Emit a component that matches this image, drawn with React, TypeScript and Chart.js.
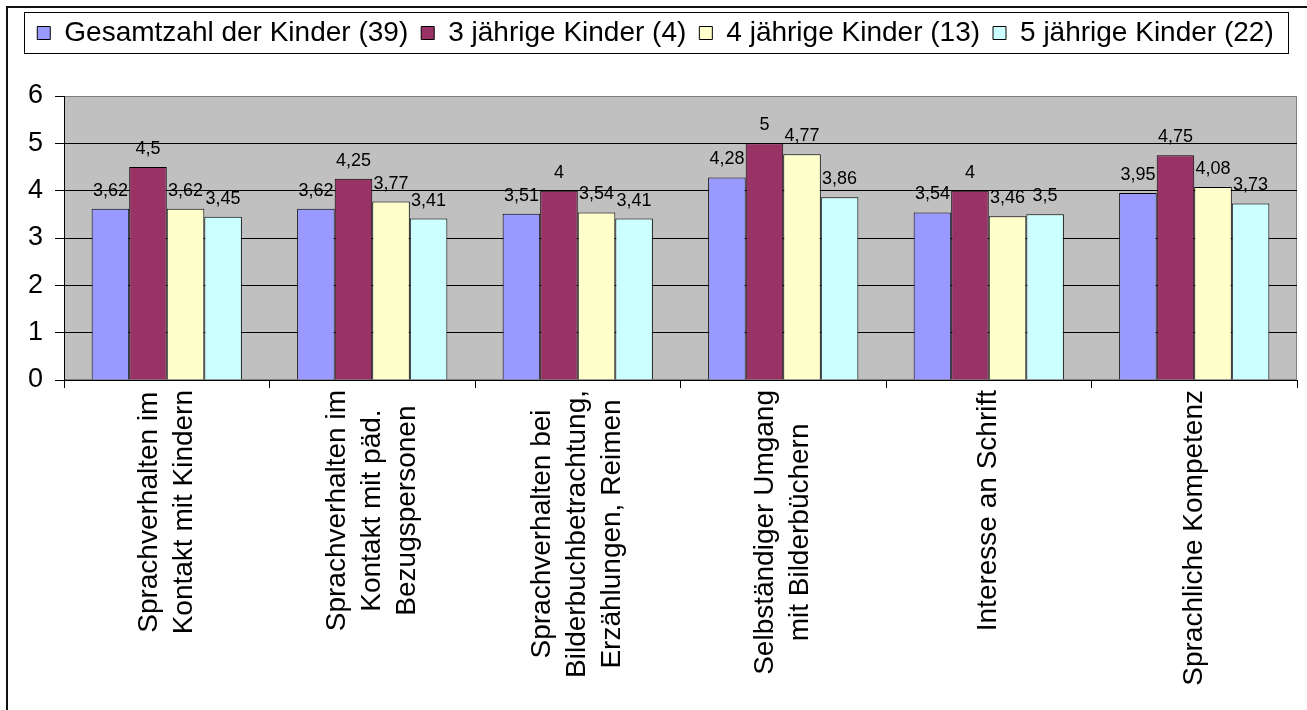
import React, { useEffect, useRef } from 'react';
import { Chart, registerables } from 'chart.js';

Chart.register(...registerables);

const FONT = "'Liberation Sans', Arial, sans-serif";

const categories: string[][] = [
  ['Sprachverhalten im', 'Kontakt mit Kindern'],
  ['Sprachverhalten im', 'Kontakt mit päd.', 'Bezugspersonen'],
  ['Sprachverhalten bei', 'Bilderbuchbetrachtung,', 'Erzählungen, Reimen'],
  ['Selbständiger Umgang', 'mit Bilderbüchern'],
  ['Interesse an Schrift'],
  ['Sprachliche Kompetenz'],
];

const seriesNames = [
  'Gesamtzahl der Kinder (39)',
  '3 jährige Kinder (4)',
  '4 jährige Kinder (13)',
  '5 jährige Kinder (22)',
];

const gesamtValues = [3.62, 3.62, 3.51, 4.28, 3.54, 3.95];
const dreiJahreValues = [4.5, 4.25, 4, 5, 4, 4.75];
const vierJahreValues = [3.62, 3.77, 3.54, 4.77, 3.46, 4.08];
const fuenfJahreValues = [3.45, 3.41, 3.41, 3.86, 3.5, 3.73];

const seriesColors = ['#9999FF', '#993366', '#FFFFCC', '#CCFFFF'];

const yMin = 0;
const yMax = 6;
const yStep = 1;

const formatValue = (v: number) => String(v).replace('.', ',');

const backgroundPlugin = {
  id: 'plotBackground',
  beforeDraw(chart: any) {
    const { ctx, chartArea, width, height } = chart;
    const { left, top, right, bottom } = chartArea;
    ctx.save();
    ctx.fillStyle = '#FFFFFF';
    ctx.fillRect(0, 0, width, height);
    ctx.fillStyle = '#C0C0C0';
    ctx.fillRect(left, top, right - left, bottom - top);
    ctx.strokeStyle = '#808080';
    ctx.lineWidth = 1;
    ctx.strokeRect(left + 0.5, top + 0.5, right - left - 1, bottom - top - 1);
    // outer chart frame
    ctx.strokeStyle = '#111111';
    ctx.lineWidth = 2;
    ctx.strokeRect(7, 7, width + 20, height + 20);
    ctx.restore();
  },
};

const legendSpacerPlugin = {
  id: 'legendSpacer',
  beforeLayout(chart: any) {
    const lg = chart.legend;
    if (lg && !lg._spacerPatched) {
      const orig = lg.fit;
      lg.fit = function () {
        orig.call(this);
        this.height += 39;
      };
      lg._spacerPatched = true;
    }
  },
};

const legendFramePlugin = {
  id: 'legendFrame',
  afterDraw(chart: any) {
    const lg = chart.legend;
    if (!lg || !lg.legendHitBoxes || !lg.legendHitBoxes.length) return;
    const hbs = lg.legendHitBoxes;
    let minL = Infinity;
    let maxR = -Infinity;
    hbs.forEach((hb: any) => {
      minL = Math.min(minL, hb.left);
      maxR = Math.max(maxR, hb.left + hb.width);
    });
    const cy = hbs[0].top + hbs[0].height / 2;
    const { ctx } = chart;
    ctx.save();
    ctx.strokeStyle = '#000000';
    ctx.lineWidth = 1;
    const l = Math.round(minL - 13) + 0.5;
    const r = Math.round(maxR + 14) + 0.5;
    const t = Math.round(cy - 21) + 0.5;
    ctx.strokeRect(l, t, r - l, 41);
    ctx.restore();
  },
};

const dataLabelPlugin = {
  id: 'dataLabels',
  afterDatasetsDraw(chart: any) {
    const { ctx } = chart;
    ctx.save();
    ctx.font = `18px ${FONT}`;
    ctx.fillStyle = '#000000';
    ctx.textAlign = 'center';
    ctx.textBaseline = 'alphabetic';
    chart.data.datasets.forEach((ds: any, i: number) => {
      const meta = chart.getDatasetMeta(i);
      meta.data.forEach((bar: any, j: number) => {
        ctx.fillText(formatValue(ds.data[j]), bar.x, bar.y - 13);
      });
    });
    ctx.restore();
  },
};

const xLabelPlugin = {
  id: 'xLabels',
  afterDraw(chart: any) {
    const { ctx } = chart;
    const xs = chart.scales.x;
    const lineH = 35;
    ctx.save();
    ctx.font = `28px ${FONT}`;
    ctx.fillStyle = '#000000';
    ctx.textAlign = 'center';
    ctx.textBaseline = 'middle';
    (chart.data.labels as any[]).forEach((label: any, i: number) => {
      const lines: string[] = Array.isArray(label) ? label : [label];
      const maxW = Math.max(...lines.map((s) => ctx.measureText(s).width));
      const x = xs.getPixelForTick(i);
      const yTop = xs.top + 10;
      ctx.save();
      ctx.translate(x, yTop + maxW / 2);
      ctx.rotate(-Math.PI / 2);
      lines.forEach((s, j) => {
        ctx.fillText(s, 0, (j - (lines.length - 1) / 2) * lineH);
      });
      ctx.restore();
    });
    ctx.restore();
  },
};

export default function App() {
  const canvasRef = useRef<HTMLCanvasElement | null>(null);

  useEffect(() => {
    if (!canvasRef.current) return;
    Chart.defaults.font.family = FONT;
    const valueSets = [gesamtValues, dreiJahreValues, vierJahreValues, fuenfJahreValues];
    const chart = new Chart(canvasRef.current, {
      type: 'bar',
      data: {
        labels: categories,
        datasets: seriesNames.map((name, i) => ({
          label: name,
          data: valueSets[i],
          backgroundColor: seriesColors[i],
          borderColor: '#000000',
          borderWidth: 1,
          categoryPercentage: 0.731,
          barPercentage: 1,
        })),
      },
      options: {
        animation: false,
        responsive: true,
        maintainAspectRatio: false,
        layout: { padding: { top: 6, right: 10, left: 14, bottom: 0 } },
        plugins: {
          legend: {
            position: 'top',
            labels: {
              color: '#000000',
              font: { size: 28, family: FONT },
              boxWidth: 13,
              boxHeight: 13,
              padding: 13,
            },
          },
          tooltip: { enabled: false },
        },
        scales: {
          x: {
            ticks: { display: false, autoSkip: false },
            grid: {
              display: true,
              drawOnChartArea: false,
              drawTicks: true,
              tickLength: 8,
              color: '#000000',
              offset: true,
            },
            border: { display: true, color: '#000000', width: 1 },
            afterFit(scale: any) {
              scale.height = 330;
            },
          },
          y: {
            min: yMin,
            max: yMax,
            ticks: {
              stepSize: yStep,
              color: '#000000',
              font: { size: 27, family: FONT },
              padding: 12,
            },
            grid: {
              color: (c: any) => (c.tick && c.tick.value === yMax ? '#808080' : '#000000'),
              tickColor: '#000000',
              tickLength: 9,
              drawTicks: true,
            },
            border: { display: true, color: '#000000', width: 1 },
            afterFit(scale: any) {
              scale.width = 50;
            },
          },
        },
      },
      plugins: [backgroundPlugin, legendSpacerPlugin, legendFramePlugin, dataLabelPlugin, xLabelPlugin],
    } as any);
    return () => chart.destroy();
  }, []);

  return (
    <div style={{ position: 'absolute', left: 0, top: 0, width: 1307, height: 710, background: '#fff' }}>
      <canvas ref={canvasRef} style={{ display: 'block' }} />
    </div>
  );
}
